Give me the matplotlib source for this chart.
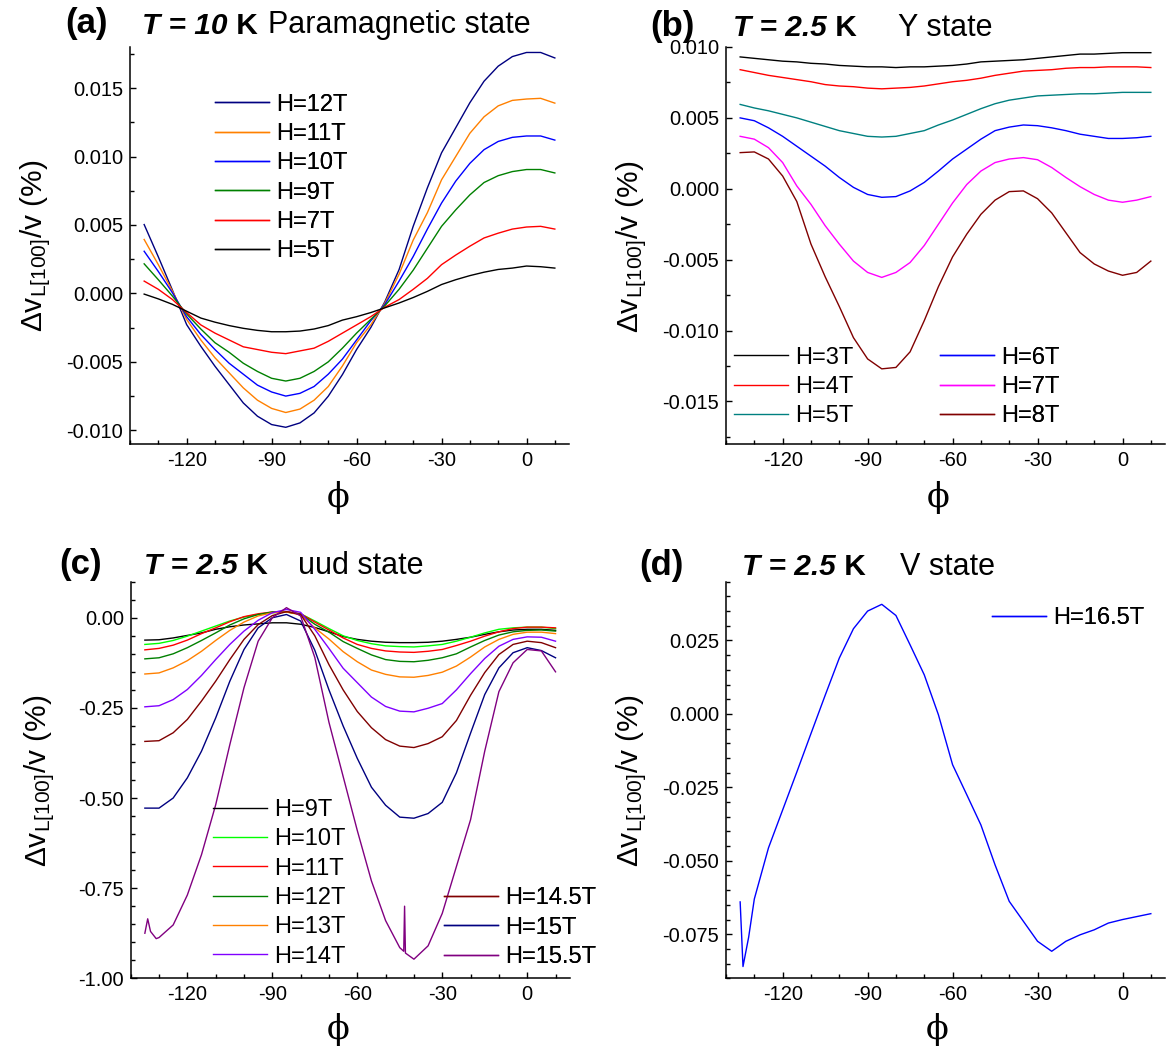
import numpy as np
import matplotlib
matplotlib.use('Agg')
import matplotlib.pyplot as plt
from matplotlib.ticker import MultipleLocator, FormatStrFormatter

plt.rcParams['font.family'] = ['Liberation Sans', 'DejaVu Sans']
plt.rcParams['mathtext.fontset'] = 'custom'
plt.rcParams['mathtext.rm'] = 'Liberation Sans'
plt.rcParams['mathtext.it'] = 'Liberation Sans:italic'
plt.rcParams['mathtext.bf'] = 'Liberation Sans:bold'
plt.rcParams['axes.unicode_minus'] = False

# ---------------- data ----------------
phi = np.arange(-135, 11, 5)  # angle grid (deg)

# (a) T = 10 K, values in units of 1e-3 %
a_labels = ['H=12T', 'H=11T', 'H=10T', 'H=9T', 'H=7T', 'H=5T']
a_colors = ['#000080', '#FF8000', '#0000FF', '#008000', '#FF0000', '#000000']
a_12 = [5.03, 2.67, 0.23, -2.28, -3.86, -5.32, -6.66, -8.0, -8.97, -9.58, -9.78, -9.46, -8.73, -7.51, -5.93, -4.1, -2.5, -0.6, 1.74, 4.91, 7.71, 10.27, 12.10, 13.93, 15.5, 16.6, 17.3, 17.6, 17.6, 17.2]
a_11 = [3.94, 2.1, 0.16, -1.9, -3.4, -4.7, -5.8, -6.9, -7.8, -8.4, -8.7, -8.45, -7.8, -6.8, -5.3, -3.6, -2.3, -0.7, 1.4, 3.9, 5.9, 8.3, 10.0, 11.7, 12.9, 13.7, 14.1, 14.2, 14.25, 13.9]
a_10 = [3.08, 1.6, 0.04, -1.7, -3.0, -4.1, -5.1, -5.9, -6.7, -7.2, -7.5, -7.3, -6.8, -5.9, -4.8, -3.4, -2.0, -0.8, 0.9, 2.7, 4.7, 6.6, 8.2, 9.5, 10.5, 11.1, 11.4, 11.5, 11.5, 11.2]
a_9 = [2.16, 1.0, -0.2, -1.5, -2.6, -3.6, -4.3, -5.1, -5.7, -6.2, -6.4, -6.2, -5.7, -5.0, -4.0, -2.9, -1.9, -0.9, 0.3, 1.7, 3.3, 4.9, 6.1, 7.2, 8.1, 8.6, 8.9, 9.05, 9.05, 8.8]
a_7 = [0.9, 0.3, -0.45, -1.4, -2.3, -2.9, -3.4, -3.9, -4.1, -4.3, -4.4, -4.2, -4.0, -3.5, -2.9, -2.3, -1.7, -1.0, -0.45, 0.3, 1.1, 2.1, 2.8, 3.45, 4.05, 4.4, 4.7, 4.85, 4.9, 4.7]
a_5 = [-0.05, -0.4, -0.8, -1.3, -1.8, -2.1, -2.35, -2.55, -2.7, -2.8, -2.8, -2.75, -2.6, -2.35, -1.95, -1.7, -1.4, -1.05, -0.7, -0.3, 0.15, 0.65, 1.0, 1.3, 1.55, 1.75, 1.85, 2.0, 1.95, 1.85]

# (b) T = 2.5 K, Y state, units of 1e-3 %
b_labels = ['H=3T', 'H=4T', 'H=5T', 'H=6T', 'H=7T', 'H=8T']
b_colors = ['#000000', '#FF0000', '#008080', '#0000FF', '#FF00FF', '#800000']
b_3 = [9.3, 9.2, 9.1, 9.0, 8.95, 8.85, 8.8, 8.7, 8.65, 8.6, 8.6, 8.55, 8.6, 8.6, 8.65, 8.7, 8.8, 8.95, 9.0, 9.05, 9.1, 9.2, 9.3, 9.4, 9.5, 9.5, 9.55, 9.6, 9.6, 9.6]
b_4 = [8.4, 8.2, 8.0, 7.85, 7.7, 7.55, 7.35, 7.25, 7.2, 7.1, 7.05, 7.1, 7.15, 7.25, 7.4, 7.55, 7.65, 7.8, 8.0, 8.15, 8.3, 8.35, 8.4, 8.5, 8.55, 8.55, 8.6, 8.6, 8.6, 8.55]
b_5 = [5.95, 5.7, 5.5, 5.25, 5.0, 4.7, 4.4, 4.1, 3.9, 3.7, 3.65, 3.7, 3.9, 4.1, 4.5, 4.85, 5.25, 5.65, 6.0, 6.25, 6.4, 6.55, 6.6, 6.65, 6.7, 6.7, 6.75, 6.8, 6.8, 6.8]
b_6 = [5.0, 4.8, 4.3, 3.7, 3.0, 2.3, 1.6, 0.8, 0.1, -0.4, -0.6, -0.55, -0.15, 0.45, 1.25, 2.1, 2.8, 3.5, 4.1, 4.35, 4.5, 4.45, 4.3, 4.1, 3.85, 3.7, 3.55, 3.55, 3.6, 3.7]
b_7 = [3.7, 3.5, 2.9, 1.85, 0.2, -1.1, -2.6, -3.9, -5.1, -5.9, -6.25, -5.9, -5.2, -4.0, -2.5, -1.0, 0.3, 1.25, 1.85, 2.1, 2.2, 2.05, 1.5, 0.8, 0.15, -0.4, -0.8, -0.95, -0.8, -0.55]
b_8 = [2.55, 2.6, 2.1, 0.9, -0.9, -3.9, -6.2, -8.3, -10.5, -12.0, -12.7, -12.6, -11.5, -9.3, -6.9, -4.8, -3.2, -1.8, -0.8, -0.2, -0.15, -0.7, -1.7, -3.1, -4.5, -5.3, -5.8, -6.1, -5.9, -5.1]

# (c) T = 2.5 K, uud state, units of %
c_labels = ['H=9T', 'H=10T', 'H=11T', 'H=12T', 'H=13T', 'H=14T', 'H=14.5T', 'H=15T', 'H=15.5T']
c_colors = ['#000000', '#00FF00', '#FF0000', '#008000', '#FF8000', '#8000FF', '#800000', '#000080', '#800080']
c_9 = [-0.062, -0.061, -0.056, -0.049, -0.042, -0.032, -0.025, -0.020, -0.017, -0.014, -0.014, -0.018, -0.027, -0.039, -0.052, -0.060, -0.065, -0.068, -0.069, -0.069, -0.068, -0.065, -0.060, -0.054, -0.046, -0.039, -0.034, -0.032, -0.032, -0.035]
c_10 = [-0.074, -0.071, -0.063, -0.051, -0.037, -0.023, -0.009, 0.002, 0.009, 0.014, 0.016, 0.011, -0.009, -0.030, -0.050, -0.063, -0.072, -0.078, -0.080, -0.081, -0.078, -0.074, -0.065, -0.054, -0.042, -0.032, -0.028, -0.026, -0.026, -0.030]
c_11 = [-0.089, -0.085, -0.076, -0.062, -0.044, -0.028, -0.011, 0.003, 0.011, 0.016, 0.017, 0.011, -0.012, -0.034, -0.056, -0.074, -0.085, -0.092, -0.095, -0.096, -0.093, -0.088, -0.077, -0.065, -0.051, -0.039, -0.030, -0.026, -0.026, -0.028]
c_12 = [-0.114, -0.111, -0.100, -0.083, -0.063, -0.042, -0.020, -0.003, 0.009, 0.016, 0.016, 0.010, -0.018, -0.040, -0.066, -0.085, -0.103, -0.116, -0.121, -0.122, -0.118, -0.111, -0.100, -0.081, -0.063, -0.048, -0.039, -0.035, -0.034, -0.037]
c_13 = [-0.156, -0.153, -0.139, -0.119, -0.093, -0.063, -0.035, -0.012, 0.005, 0.014, 0.016, 0.008, -0.028, -0.059, -0.094, -0.122, -0.145, -0.157, -0.164, -0.165, -0.160, -0.151, -0.134, -0.109, -0.081, -0.060, -0.046, -0.040, -0.040, -0.044]
c_14 = [-0.247, -0.244, -0.227, -0.199, -0.160, -0.116, -0.074, -0.037, -0.007, 0.014, 0.023, 0.015, -0.032, -0.085, -0.140, -0.180, -0.220, -0.246, -0.259, -0.261, -0.251, -0.238, -0.200, -0.155, -0.113, -0.079, -0.060, -0.053, -0.054, -0.065]
c_14_5 = [-0.343, -0.341, -0.319, -0.282, -0.231, -0.176, -0.116, -0.060, -0.019, 0.006, 0.017, 0.009, -0.050, -0.130, -0.200, -0.260, -0.305, -0.338, -0.356, -0.360, -0.349, -0.330, -0.285, -0.215, -0.152, -0.102, -0.074, -0.065, -0.069, -0.083]
c_15 = [-0.528, -0.528, -0.500, -0.444, -0.370, -0.278, -0.176, -0.088, -0.028, 0.000, 0.009, -0.009, -0.090, -0.200, -0.300, -0.390, -0.470, -0.520, -0.553, -0.556, -0.543, -0.512, -0.430, -0.320, -0.213, -0.139, -0.097, -0.083, -0.091, -0.111]
phi_c155 = [-135, -134, -133, -131, -130, -125, -120, -115, -110, -105, -100, -95, -90, -85, -80, -75, -70, -65, -60, -55, -50, -45, -43.6, -43.3, -43.0, -40, -35, -30, -25, -20, -15, -10, -5, 0, 5, 10]
c_15_5 = [-0.875, -0.835, -0.870, -0.890, -0.887, -0.852, -0.769, -0.657, -0.519, -0.352, -0.194, -0.065, 0.000, 0.028, 0.005, -0.110, -0.290, -0.440, -0.590, -0.730, -0.840, -0.915, -0.925, -0.800, -0.930, -0.947, -0.910, -0.820, -0.690, -0.560, -0.370, -0.205, -0.125, -0.088, -0.092, -0.150]

# (d) T = 2.5 K, V state, units of 1e-3 %
d_label = 'H=16.5T'
phi_d = [-135, -134, -132, -130, -125, -120, -115, -110, -105, -100, -95, -90, -85, -80, -75, -70, -65, -60, -55, -50, -45, -40, -35, -30, -25, -20, -15, -10, -5, 0, 5, 10]
d_165 = [-64, -86, -76, -63, -45.6, -32.7, -19.8, -6.7, 6.3, 19, 29, 35, 37.3, 33.5, 23.5, 13.3, -0.3, -17.3, -27.5, -37.8, -51.4, -63.8, -70.6, -77.4, -80.8, -77.4, -75.2, -73.5, -71.2, -70, -69, -68]

# ---------------- figure ----------------
W, H = 1170, 1049
fig = plt.figure(figsize=(W / 100, H / 100), dpi=100)

def px_axes(left, top, right, bottom):
    return fig.add_axes([left / W, 1 - bottom / H, (right - left) / W, (bottom - top) / H])

def style(ax, ylim, ymaj, ymin, fmt):
    ax.set_xlim(-140, 15)
    ax.set_ylim(*ylim)
    ax.xaxis.set_major_locator(MultipleLocator(30))
    ax.xaxis.set_minor_locator(MultipleLocator(10))
    ax.yaxis.set_major_locator(MultipleLocator(ymaj))
    ax.yaxis.set_minor_locator(MultipleLocator(ymin))
    ax.yaxis.set_major_formatter(FormatStrFormatter(fmt))
    for s in ['top', 'right']:
        ax.spines[s].set_visible(False)
    for s in ['left', 'bottom']:
        ax.spines[s].set_linewidth(1.1)
    ax.tick_params(which='major', direction='in', length=4.5, width=1.0, labelsize=14.5, pad=5)
    ax.tick_params(which='minor', direction='in', length=2.6, width=1.0)

FS_LEG = 17

def add_legend(ax, handles, labels, x_left, y_rows):
    yc = (y_rows[0] + y_rows[-1]) / 2
    leg = ax.legend(handles, labels, loc='center left',
                    bbox_to_anchor=(x_left / W, 1 - yc / H), bbox_transform=fig.transFigure,
                    frameon=False, fontsize=FS_LEG, handlelength=2.3, handletextpad=0.3,
                    labelspacing=0.31, borderpad=0, borderaxespad=0)
    ax.add_artist(leg)

def titles(x_lab, x_T, x_state, ybase, lab, ttext, state):
    yb = 1 - ybase / H
    fig.text(x_lab / W, yb, lab, fontsize=25, weight='bold', va='baseline')
    t = fig.text(x_T / W, yb, ttext, fontsize=21.5, weight='bold', style='italic', va='baseline')
    fig.axes[0].annotate(' K', xy=(1, 0), xycoords=t, va='bottom', ha='left',
                         fontsize=21.5, weight='bold', annotation_clip=False)
    fig.text(x_state / W, yb, state, fontsize=22, va='baseline')

ylab = 'Δv$_{\\mathregular{L[100]}}$/v (%)'

def labels(ax, ylx, yly, xlx, xly):
    fig.text(ylx / W, 1 - yly / H, ylab, fontsize=21.5, rotation=90, ha='center', va='center')
    fig.text(xlx / W, 1 - xly / H, 'ϕ', fontsize=24, family='DejaVu Serif', ha='center', va='center')

# ---- (a)
ax_a = px_axes(130, 47, 569, 444)
a_series = [a_12, a_11, a_10, a_9, a_7, a_5]
ha = []
for y, c, l in zip(a_series, a_colors, a_labels):
    ha.append(ax_a.plot(phi, np.array(y) * 1e-3, color=c, lw=1.0, label=l)[0])
style(ax_a, (-0.011, 0.018), 0.005, 0.0025, '%.3f')
add_legend(ax_a, ha, a_labels, 215, [104, 133.6, 163.2, 192.8, 222.4, 252])
labels(ax_a, 36, 246, 338, 498)

# ---- (b)
ax_b = px_axes(726, 47, 1165, 444)
b_series = [b_3, b_4, b_5, b_6, b_7, b_8]
hb = []
for y, c, l in zip(b_series, b_colors, b_labels):
    hb.append(ax_b.plot(phi, np.array(y) * 1e-3, color=c, lw=1.0, label=l)[0])
style(ax_b, (-0.018, 0.010), 0.005, 0.0025, '%.3f')
add_legend(ax_b, hb[:3], b_labels[:3], 734, [357.3, 387.3, 416.7])
add_legend(ax_b, hb[3:], b_labels[3:], 940, [357.3, 387.3, 416.7])
labels(ax_b, 632, 247, 938, 497)

# ---- (c)
ax_c = px_axes(130.7, 581.7, 569.7, 978.3)
c_series = [c_9, c_10, c_11, c_12, c_13, c_14, c_14_5, c_15]
hc = []
for y, c, l in zip(c_series, c_colors[:8], c_labels[:8]):
    hc.append(ax_c.plot(phi, y, color=c, lw=1.0, label=l)[0])
hc.append(ax_c.plot(phi_c155, c_15_5, color=c_colors[8], lw=1.0, label=c_labels[8])[0])
style(ax_c, (-1.0, 0.1), 0.25, 0.05, '%.2f')
add_legend(ax_c, hc[:6], c_labels[:6], 212.7, [809.3, 838.9, 868.5, 898.1, 927.7, 957.3])
add_legend(ax_c, hc[6:], c_labels[6:], 444, [898.1, 927.7, 957.3])
labels(ax_c, 40, 781, 338.5, 1030)

# ---- (d)
ax_d = px_axes(726, 581.7, 1165, 978.3)
hd = ax_d.plot(phi_d, np.array(d_165) * 1e-3, color='#0000FF', lw=1.0, label=d_label)[0]
style(ax_d, (-0.090, 0.045), 0.025, 0.005, '%.3f')
add_legend(ax_d, [hd], [d_label], 992, [618.5])
labels(ax_d, 632, 781, 937, 1030)

titles(65, 142, 268, 33.5, '(a)', 'T = 10', 'Paramagnetic state')
titles(650, 733, 898, 36, '(b)', 'T = 2.5', 'Y state')
titles(59, 144, 298, 574, '(c)', 'T = 2.5', 'uud state')
titles(639, 742, 900, 575, '(d)', 'T = 2.5', 'V state')

fig.savefig('out.png', dpi=100)
